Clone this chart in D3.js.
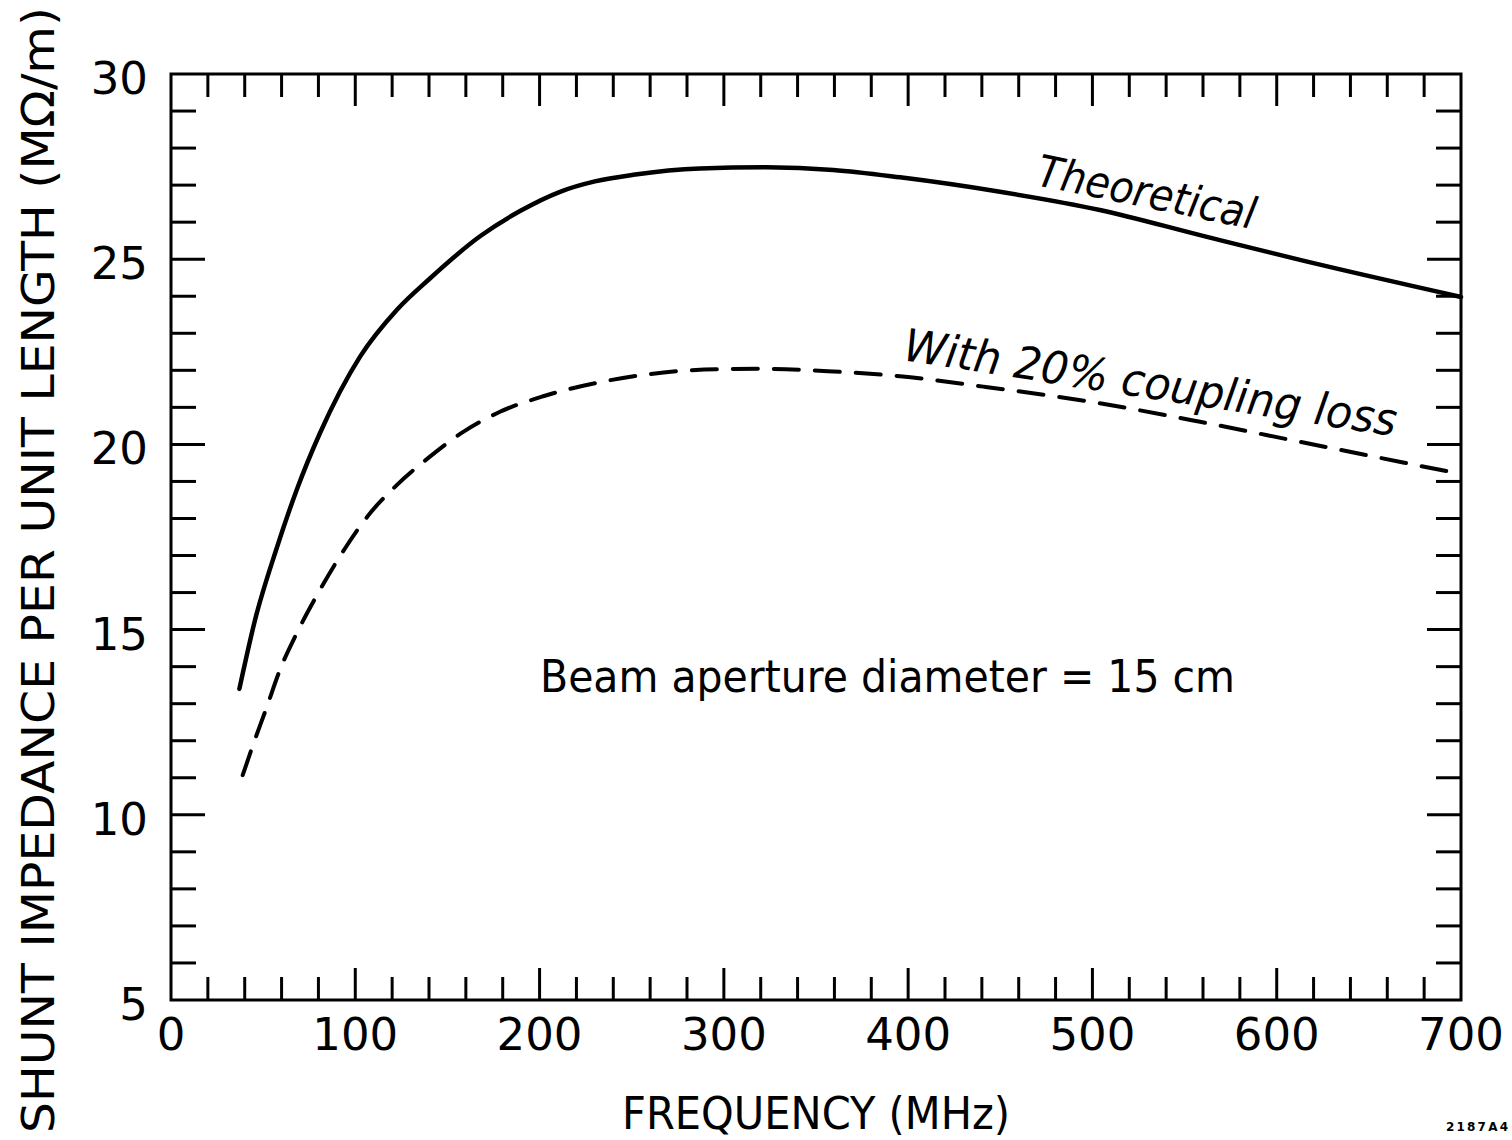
<!DOCTYPE html>
<html>
<head>
<meta charset="utf-8">
<script src="https://cdn.jsdelivr.net/npm/d3@7"></script>
<style>
  body { margin: 0; background: #fff; }
  svg { display: block; }
</style>
</head>
<body>
<script>
// values (MHz, Mohm/m)
var theoFreq = [37.1, 45.6, 57.3, 68.2, 80.8, 102.6, 122.5, 140.5, 167.7, 189.4, 211.1, 230, 250.9, 287, 323, 359.4, 395.6, 449.8, 504, 558.4, 612.6, 700];
var theoValue = [13.4, 15.26, 17.19, 18.77, 20.3, 22.37, 23.63, 24.48, 25.62, 26.3, 26.82, 27.1, 27.28, 27.45, 27.48, 27.41, 27.21, 26.82, 26.33, 25.65, 24.98, 23.98];

var lossFreq = [38.9, 44.7, 51.9, 59.1, 68.2, 80, 94.4, 108, 122.5, 140.5, 158.6, 178.5, 202, 232.8, 260, 296, 323, 359.4, 395.6, 440.8, 504, 558.4, 612.6, 700];
var lossValue = [11.07, 11.91, 12.9, 13.91, 14.9, 16.0, 17.19, 18.14, 18.9, 19.67, 20.34, 20.88, 21.3, 21.68, 21.9, 22.03, 22.04, 21.97, 21.84, 21.56, 21.11, 20.61, 20.07, 19.2];

var xTickLabels = [0, 100, 200, 300, 400, 500, 600, 700];
var yTickLabels = [5, 10, 15, 20, 25, 30];

var width = 1512, height = 1140;
var plotLeft = 171, plotRight = 1461, plotTop = 74, plotBottom = 1000;

var svg = d3.select("body").append("svg")
	.attr("width", width)
	.attr("height", height);

var x = d3.scaleLinear().domain([0, 700]).range([plotLeft, plotRight]);
var y = d3.scaleLinear().domain([5, 30]).range([plotBottom, plotTop]);

var font = "'DejaVu Sans', sans-serif";

// frame
svg.append("rect")
	.attr("x", plotLeft).attr("y", plotTop)
	.attr("width", plotRight - plotLeft).attr("height", plotBottom - plotTop)
	.attr("fill", "none").attr("stroke", "#000").attr("stroke-width", 3);

// inward ticks on all four sides
var ticks = svg.append("g").attr("stroke", "#000").attr("stroke-width", 3);
d3.range(20, 700, 20).forEach(function(f) {
	var len = (f % 100 === 0) ? 32 : 23;
	ticks.append("line").attr("x1", x(f)).attr("x2", x(f)).attr("y1", plotBottom).attr("y2", plotBottom - len);
	ticks.append("line").attr("x1", x(f)).attr("x2", x(f)).attr("y1", plotTop).attr("y2", plotTop + len);
});
d3.range(6, 30, 1).forEach(function(v) {
	var len = (v % 5 === 0) ? 34 : 25;
	ticks.append("line").attr("x1", plotLeft).attr("x2", plotLeft + len).attr("y1", y(v)).attr("y2", y(v));
	ticks.append("line").attr("x1", plotRight).attr("x2", plotRight - len).attr("y1", y(v)).attr("y2", y(v));
});

// tick labels
svg.append("g").selectAll("text")
	.data(xTickLabels)
	.enter().append("text")
	.attr("x", function(d) { return x(d); })
	.attr("y", 1050)
	.attr("text-anchor", "middle")
	.attr("font-family", font).attr("font-size", 45)
	.text(function(d) { return d; });

svg.append("g").selectAll("text")
	.data(yTickLabels)
	.enter().append("text")
	.attr("x", 148)
	.attr("y", function(d) { return y(d) + 20; })
	.attr("text-anchor", "end")
	.attr("font-family", font).attr("font-size", 45)
	.text(function(d) { return d; });

// axis titles
svg.append("text")
	.attr("x", 816).attr("y", 1129)
	.attr("text-anchor", "middle")
	.attr("font-family", font).attr("font-size", 44)
	.attr("textLength", 388).attr("lengthAdjust", "spacingAndGlyphs")
	.text("FREQUENCY (MHz)");

svg.append("text")
	.attr("transform", "translate(54,570) rotate(-90)")
	.attr("text-anchor", "middle")
	.attr("font-family", font).attr("font-size", 44)
	.attr("textLength", 1126).attr("lengthAdjust", "spacingAndGlyphs")
	.text("SHUNT IMPEDANCE PER UNIT LENGTH (M\u03A9/m)");

// curves
var line = d3.line()
	.x(function(d) { return x(d[0]); })
	.y(function(d) { return y(d[1]); })
	.curve(d3.curveMonotoneX);

var theo = d3.zip(theoFreq, theoValue);
var loss = d3.zip(lossFreq, lossValue);

svg.append("path")
	.datum(theo)
	.attr("d", line)
	.attr("fill", "none").attr("stroke", "#000")
	.attr("stroke-width", 4.5).attr("stroke-linecap", "round");

svg.append("path")
	.datum(loss)
	.attr("d", line)
	.attr("fill", "none").attr("stroke", "#000")
	.attr("stroke-width", 4).attr("stroke-linecap", "round")
	.attr("stroke-dasharray", "25,16");

// annotations
svg.append("text")
	.attr("transform", "translate(1035,185) rotate(11.5)")
	.attr("font-family", font).attr("font-size", 44).attr("font-style", "italic")
	.attr("textLength", 222).attr("lengthAdjust", "spacingAndGlyphs")
	.text("Theoretical");

svg.append("text")
	.attr("transform", "translate(902,360) rotate(8.8)")
	.attr("font-family", font).attr("font-size", 45).attr("font-style", "italic")
	.attr("textLength", 498).attr("lengthAdjust", "spacingAndGlyphs")
	.text("With 20% coupling loss");

svg.append("text")
	.attr("x", 540).attr("y", 692)
	.attr("font-family", font).attr("font-size", 45)
	.attr("textLength", 695).attr("lengthAdjust", "spacingAndGlyphs")
	.text("Beam aperture diameter = 15 cm");

svg.append("text")
	.attr("x", 1446).attr("y", 1131)
	.attr("font-family", font).attr("font-size", 12).attr("font-weight", "bold")
	.attr("textLength", 62).attr("lengthAdjust", "spacing")
	.text("2187A4");
</script>
</body>
</html>
